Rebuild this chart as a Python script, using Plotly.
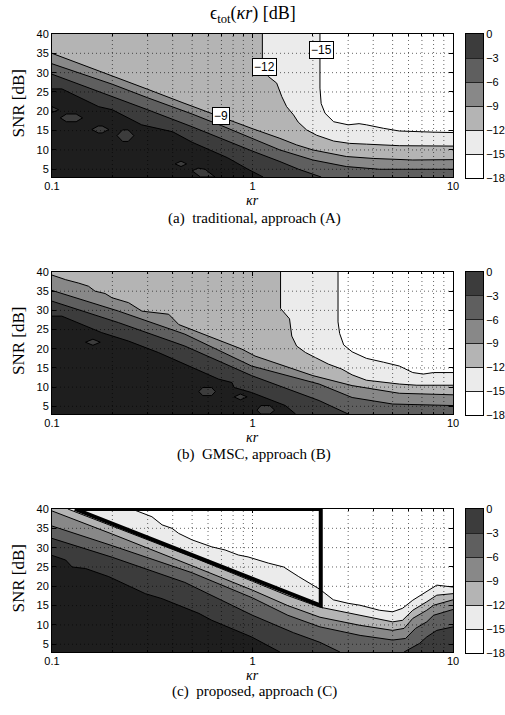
import math
import plotly.graph_objects as go

# ---------------- axes / scale values ----------------
KR_RANGE = [0.1, 10]
SNR_RANGE = [3, 40]
X_TICKS = [0.1, 1, 10]
X_TICK_TEXT = ["0.1", "1", "10"]
X_MINOR = [0.2, 0.3, 0.4, 0.5, 0.6, 0.7, 0.8, 0.9, 2, 3, 4, 5, 6, 7, 8, 9]
Y_TICKS = [5, 10, 15, 20, 25, 30, 35, 40]
LEVELS = [-18, -15, -12, -9, -6, -3, 0]
LEVEL_TEXT = ["\u221218", "\u221215", "\u221212", "\u22129", "\u22126", "\u22123", "0"]
BAND_MID = [-16.5, -13.5, -10.5, -7.5, -4.5, -1.5]
BAND_COLORS = ["#ffffff", "#ebebeb", "#b4b4b4", "#888888", "#5f5f5f", "#3c3c3c"]
ABOVE_ZERO_COLOR = "#1e1e1e"

# ---------------- panel (a): traditional ----------------
A_M15_KR = [2.17, 2.17, 2.2, 2.3, 2.54, 3.0, 3.4, 3.7, 4.5, 5.4, 8.0, 10]
A_M15_SNR = [40, 26, 22, 19.5, 17.3, 16.5, 16.8, 16.5, 15.6, 14.9, 14.6, 14.5]
A_M12_KR = [1.12, 1.12, 1.2, 1.32, 1.40, 1.48, 1.60, 1.69, 1.86, 2.09, 2.54, 3.05, 3.7, 5.4, 10]
A_M12_SNR = [40, 31, 29.0, 27.3, 23.8, 21.2, 19.1, 17.2, 15.2, 13.8, 12.3, 11.7, 11.5, 11.1, 11.0]
A_M9_KR = [0.1, 0.2, 0.3, 0.45, 0.64, 0.8, 1.0, 1.37, 1.66, 2.0, 2.94, 4.0, 6.3, 10]
A_M9_SNR = [35.0, 29.2, 25.7, 22.2, 19.2, 17.4, 15.5, 13.0, 11.3, 10.0, 8.3, 7.8, 7.4, 7.5]
A_M6_KR = [0.1, 0.2, 0.3, 0.5, 0.7, 1.0, 1.37, 2.0, 2.94, 4.3, 10]
A_M6_SNR = [32.3, 27.0, 23.5, 19.3, 16.3, 13.0, 10.0, 7.4, 5.7, 5.0, 5.0]
A_M3_KR = [0.1, 0.2, 0.3, 0.5, 0.7, 1.0, 1.37, 1.7, 2.2]
A_M3_SNR = [29.6, 23.9, 20.4, 16.0, 12.9, 9.7, 7.0, 5.0, 3.0]
A_0_KR = [0.1, 0.112, 0.171, 0.2, 0.28, 0.4, 0.5, 0.75, 0.95, 1.13]
A_0_SNR = [25.8, 25.8, 21.2, 20.4, 16.5, 14.7, 12.0, 8.0, 5.0, 3.0]
A_ISLANDS = [
    ([0.1, 0.108, 0.1], [21.2, 20.4, 19.7]),
    ([0.110, 0.118, 0.132, 0.142, 0.132, 0.118], [18.3, 19.3, 19.3, 18.3, 17.3, 17.3]),
    ([0.158, 0.170, 0.178, 0.192, 0.178, 0.170], [15.3, 16.2, 16.2, 15.3, 14.4, 14.4]),
    ([0.211, 0.225, 0.240, 0.256, 0.240, 0.225], [13.7, 15.2, 15.2, 13.7, 12.2, 12.2]),
    ([0.411, 0.44, 0.469, 0.44], [6.4, 7.1, 6.4, 5.7]),
    ([0.50, 0.535, 0.58, 0.65, 0.55], [4.6, 5.3, 5.0, 3.0, 3.0]),
]
A_LABEL_KR = [0.70, 1.15, 2.21]
A_LABEL_SNR = [18.8, 31.4, 35.9]
A_LABEL_TEXT = ["\u22129", "\u221212", "\u221215"]

# ---------------- panel (b): GMSC ----------------
B_M15_KR = [2.67, 2.67, 2.72, 2.85, 3.14, 3.7, 4.5, 5.4, 6.3, 7.1, 8.0, 10]
B_M15_SNR = [40, 27, 24, 21, 19.2, 17.5, 16.5, 15.5, 13.8, 13.4, 13.8, 13.8]
B_M12_KR = [1.38, 1.38, 1.53, 1.57, 1.66, 1.84, 2.06, 2.39, 2.79, 3.14, 3.7, 5.4, 6.6, 10]
B_M12_SNR = [40, 30.5, 27.8, 23.3, 20.7, 19.0, 17.7, 16.0, 14.7, 13.2, 11.8, 10.8, 10.5, 10.5]
B_M9_KR = [0.1, 0.117, 0.136, 0.152, 0.164, 0.184, 0.199, 0.241, 0.281, 0.382, 0.429,
           0.518, 0.653, 0.79, 0.885, 1.03, 1.4, 2.0, 3.14, 5.4, 10]
B_M9_SNR = [39.2, 38.0, 37.1, 36.3, 35.0, 34.4, 33.3, 32.0, 29.8, 29.0, 26.3,
            24.6, 22.5, 20.9, 19.9, 18.1, 15.8, 13.0, 10.4, 8.4, 8.0]
B_M6_KR = [0.1, 0.215, 0.46, 0.99, 2.15, 3.14, 5.0, 10]
B_M6_SNR = [35.2, 29.8, 23.8, 15.5, 10.8, 7.3, 5.6, 5.2]
B_M3_KR = [0.1, 0.215, 0.46, 0.99, 2.15, 3.0]
B_M3_SNR = [32.4, 26.8, 20.7, 13.0, 6.5, 3.0]
B_0_KR = [0.1, 0.112, 0.177, 0.241, 0.34, 0.46, 0.677, 0.79, 0.81, 0.99, 1.46, 1.64]
B_0_SNR = [28.5, 28.5, 24.2, 22.0, 19.0, 16.0, 12.1, 11.2, 9.9, 8.6, 5.2, 3.0]
B_ISLANDS = [
    ([0.147, 0.16, 0.174, 0.16], [21.7, 22.5, 21.7, 20.9]),
    ([0.539, 0.565, 0.625, 0.653, 0.625, 0.565], [8.85, 9.9, 9.9, 8.85, 7.8, 7.8]),
    ([0.81, 0.87, 0.94, 0.87], [7.45, 8.2, 7.45, 6.7]),
    ([1.053, 1.10, 1.22, 1.29, 1.22, 1.10], [4.0, 5.2, 5.2, 4.0, 3.0, 3.0]),
]

# ---------------- panel (c): proposed ----------------
C_M15_KR = [0.25, 0.315, 0.354, 0.397, 0.428, 0.50, 0.627, 0.73, 0.85, 0.95, 1.2, 1.43,
            1.7, 2.17, 2.53, 3.0, 3.44, 4.3, 5.0, 5.6, 6.3, 7.4, 8.3, 10]
C_M15_SNR = [40, 38.0, 35.9, 35.0, 33.7, 32.0, 30.2, 29.4, 28.1, 27.6, 26.0, 25.0,
             22.5, 19.2, 16.5, 15.6, 15.1, 13.8, 13.4, 14.3, 16.4, 18.6, 20.3, 19.8]
C_M12_KR = [0.12, 0.2, 0.5, 1.0, 1.5, 2.17, 3.0, 3.44, 5.0, 5.6, 6.3, 7.4, 8.3, 10]
C_M12_SNR = [40, 35.6, 27.6, 21.3, 17.6, 14.6, 13.2, 12.5, 10.8, 11.2, 13.8, 16.0, 17.7, 18.1]
C_M9_KR = [0.1, 0.2, 0.5, 1.0, 1.5, 2.17, 3.44, 5.0, 5.7, 6.3, 7.4, 8.0, 10]
C_M9_SNR = [39.5, 33.5, 25.3, 19.0, 15.0, 12.0, 9.9, 8.6, 9.1, 11.7, 13.8, 15.1, 16.5]
C_M6_KR = [0.1, 0.2, 0.5, 1.0, 1.5, 2.17, 3.44, 5.0, 5.8, 6.5, 7.4, 8.0, 10]
C_M6_SNR = [35.6, 30.5, 23.5, 17.0, 12.5, 9.5, 7.3, 6.1, 6.5, 9.1, 10.8, 12.5, 14.0]
C_M3_KR = [0.1, 0.2, 0.46, 1.0, 1.6, 2.17, 2.73]
C_M3_SNR = [32.4, 27.5, 21.0, 12.5, 8.0, 5.5, 3.0]
C_M3B_KR = [5.7, 6.8, 7.4, 8.3, 10]
C_M3B_SNR = [3.0, 5.2, 6.9, 8.6, 9.5]
C_0_KR = [0.1, 0.117, 0.126, 0.147, 0.192, 0.292, 0.354, 0.54, 0.627, 0.99, 1.37]
C_0_SNR = [28.0, 26.8, 25.0, 24.6, 22.5, 18.1, 16.8, 13.0, 11.2, 6.9, 3.0]
C_TRI_KR = [0.13, 2.19, 2.19, 0.13]
C_TRI_SNR = [40, 15.0, 40, 40]

PANELS = [
    {
        "lines": [(-15, [(A_M15_KR, A_M15_SNR)]), (-12, [(A_M12_KR, A_M12_SNR)]),
                  (-9, [(A_M9_KR, A_M9_SNR)]), (-6, [(A_M6_KR, A_M6_SNR)]),
                  (-3, [(A_M3_KR, A_M3_SNR)]), (0, [(A_0_KR, A_0_SNR)])],
        "islands": A_ISLANDS,
        "caption": "(a)\u00a0 traditional, approach (A)",
        "top": 34, "bottom": 177, "xlabel_y": 200, "caption_y": 218.5,
    },
    {
        "lines": [(-15, [(B_M15_KR, B_M15_SNR)]), (-12, [(B_M12_KR, B_M12_SNR)]),
                  (-9, [(B_M9_KR, B_M9_SNR)]), (-6, [(B_M6_KR, B_M6_SNR)]),
                  (-3, [(B_M3_KR, B_M3_SNR)]), (0, [(B_0_KR, B_0_SNR)])],
        "islands": B_ISLANDS,
        "caption": "(b)\u00a0 GMSC, approach (B)",
        "top": 272, "bottom": 414, "xlabel_y": 437, "caption_y": 454,
    },
    {
        "lines": [(-15, [(C_M15_KR, C_M15_SNR)]), (-12, [(C_M12_KR, C_M12_SNR)]),
                  (-9, [(C_M9_KR, C_M9_SNR)]), (-6, [(C_M6_KR, C_M6_SNR)]),
                  (-3, [(C_M3_KR, C_M3_SNR), (C_M3B_KR, C_M3B_SNR)]),
                  (0, [(C_0_KR, C_0_SNR)])],
        "islands": [],
        "caption": "(c)\u00a0 proposed, approach (C)",
        "top": 509, "bottom": 652, "xlabel_y": 675, "caption_y": 691,
    },
]

W, H = 505, 715
PLOT_LEFT, PLOT_RIGHT = 52, 453
CB_LEFT, CB_RIGHT = 466, 483

SANS = "Liberation Sans, Arial, sans-serif"
SERIF = "Liberation Serif, Times New Roman, serif"


def fill_color_above(level):
    if level == 0:
        return ABOVE_ZERO_COLOR
    return BAND_COLORS[LEVELS.index(level)]


def edge_of(k, s):
    lk = math.log10(k)
    if abs(lk - math.log10(KR_RANGE[1])) < 1e-9:
        return "right"
    if abs(lk - math.log10(KR_RANGE[0])) < 1e-9:
        return "left"
    if abs(s - SNR_RANGE[0]) < 1e-9:
        return "bottom"
    return "top"


def close_region(kr, snr):
    order = ["right", "bottom", "left", "top"]
    corner = {"right": (KR_RANGE[1], SNR_RANGE[0]), "bottom": (KR_RANGE[0], SNR_RANGE[0]),
              "left": (KR_RANGE[0], SNR_RANGE[1]), "top": (KR_RANGE[1], SNR_RANGE[1])}
    start = edge_of(kr[0], snr[0])
    e = edge_of(kr[-1], snr[-1])
    xs, ys = list(kr), list(snr)
    for _ in range(4):
        if e == start:
            break
        cx, cy = corner[e]
        xs.append(cx)
        ys.append(cy)
        e = order[(order.index(e) + 1) % 4]
    xs.append(kr[0])
    ys.append(snr[0])
    return xs, ys


# discrete colour scale for the colour bars
colorscale = []
for i, c in enumerate(BAND_COLORS):
    colorscale.append([i / len(BAND_COLORS), c])
    colorscale.append([(i + 1) / len(BAND_COLORS), c])

fig = go.Figure()
annotations = []
layout_axes = {}

for p_i, P in enumerate(PANELS):
    n = "" if p_i == 0 else str(p_i + 1)
    xa, ya = "x" + n, "y" + n
    cn = str(p_i + 4)
    cxa, cya = "x" + cn, "y" + cn
    # filled regions (lightest first)
    for level, segs in P["lines"]:
        for kr, snr in segs:
            xs, ys = close_region(kr, snr)
            fig.add_trace(go.Scatter(x=xs, y=ys, xaxis=xa, yaxis=ya, mode="lines",
                                     fill="toself", fillcolor=fill_color_above(level),
                                     line=dict(width=0), hoverinfo="skip", showlegend=False))
    for kr, snr in P["islands"]:
        fig.add_trace(go.Scatter(x=list(kr) + [kr[0]], y=list(snr) + [snr[0]], xaxis=xa, yaxis=ya,
                                 mode="lines", fill="toself", fillcolor=BAND_COLORS[-1],
                                 line=dict(color="black", width=1), hoverinfo="skip",
                                 showlegend=False))
    # contour lines
    for level, segs in P["lines"]:
        for kr, snr in segs:
            fig.add_trace(go.Scatter(x=kr, y=snr, xaxis=xa, yaxis=ya, mode="lines",
                                     line=dict(color="black", width=1), hoverinfo="skip",
                                     showlegend=False))
    # dotted grid on top of the fills
    gx, gy = [], []
    for v in X_MINOR + [1]:
        gx += [v, v, None]
        gy += [SNR_RANGE[0], SNR_RANGE[1], None]
    for v in Y_TICKS[:-1]:
        gx += [KR_RANGE[0], KR_RANGE[1], None]
        gy += [v, v, None]
    fig.add_trace(go.Scatter(x=gx, y=gy, xaxis=xa, yaxis=ya, mode="lines",
                             line=dict(color="rgba(0,0,0,0.6)", width=1, dash="1px,3px"),
                             hoverinfo="skip", showlegend=False))
    if p_i == 2:
        fig.add_trace(go.Scatter(x=C_TRI_KR, y=C_TRI_SNR, xaxis=xa, yaxis=ya, mode="lines",
                                 line=dict(color="black", width=4), hoverinfo="skip",
                                 showlegend=False, cliponaxis=False))
    # colour bar drawn as its own small axis
    fig.add_trace(go.Heatmap(x=[0, 1], y=LEVELS, z=[[v] for v in BAND_MID],
                             xaxis=cxa, yaxis=cya, colorscale=colorscale,
                             zmin=LEVELS[0], zmax=LEVELS[-1], showscale=False,
                             hoverinfo="skip"))

    dom_y = [1 - P["bottom"] / H, 1 - P["top"] / H]
    layout_axes["xaxis" + n] = dict(
        type="log", range=[math.log10(KR_RANGE[0]), math.log10(KR_RANGE[1])],
        domain=[PLOT_LEFT / W, PLOT_RIGHT / W], anchor=ya,
        tickmode="array", tickvals=X_TICKS, ticktext=X_TICK_TEXT,
        ticks="inside", ticklen=4, tickcolor="black", ticklabelstandoff=-1,
        showline=True, linecolor="black", linewidth=1, mirror="ticks",
        showgrid=False, zeroline=False, layer="above traces",
        tickfont=dict(family=SANS, size=11, color="black"),
        minor=dict(tickvals=X_MINOR, ticks="inside", ticklen=2, tickcolor="black",
                   showgrid=False),
        fixedrange=True)
    layout_axes["yaxis" + n] = dict(
        range=SNR_RANGE, domain=dom_y, anchor=xa,
        tickmode="array", tickvals=Y_TICKS,
        ticks="inside", ticklen=4, tickcolor="black",
        showline=True, linecolor="black", linewidth=1, mirror="ticks",
        showgrid=False, zeroline=False, layer="above traces",
        tickfont=dict(family=SANS, size=11, color="black"),
        fixedrange=True)
    cb_dom_y = [1 - (P["bottom"] + 1) / H, 1 - P["top"] / H]
    layout_axes["xaxis" + cn] = dict(
        range=[0, 1], domain=[CB_LEFT / W, CB_RIGHT / W], anchor=cya,
        showticklabels=False, ticks="", showgrid=False, zeroline=False,
        showline=True, linecolor="black", linewidth=1, mirror=True,
        layer="above traces", fixedrange=True)
    layout_axes["yaxis" + cn] = dict(
        range=[LEVELS[0], LEVELS[-1]], domain=cb_dom_y, anchor=cxa, side="right",
        tickmode="array", tickvals=LEVELS, ticktext=LEVEL_TEXT,
        ticks="inside", ticklen=CB_RIGHT - CB_LEFT, tickwidth=1, tickcolor="#222222",
        showline=True, linecolor="black", linewidth=1, mirror=True,
        showgrid=False, zeroline=False, layer="above traces",
        tickfont=dict(family=SANS, size=11, color="black"),
        fixedrange=True)

    # texts
    cy_mid = (P["top"] + P["bottom"]) / 2
    annotations.append(dict(xref="paper", yref="paper", x=18 / W, y=1 - (cy_mid - 2) / H,
                            text="SNR [dB]", textangle=-90, showarrow=False,
                            xanchor="center", yanchor="middle",
                            font=dict(family=SERIF, size=17, color="black")))
    annotations.append(dict(xref="paper", yref="paper", x=252 / W, y=1 - P["xlabel_y"] / H,
                            text="<i>\u03bar</i>", showarrow=False,
                            xanchor="center", yanchor="middle",
                            font=dict(family=SERIF, size=14, color="black")))
    annotations.append(dict(xref="paper", yref="paper", x=254 / W, y=1 - P["caption_y"] / H,
                            text=P["caption"], showarrow=False,
                            xanchor="center", yanchor="middle",
                            font=dict(family=SERIF, size=15, color="black")))

# contour level labels in panel (a)
for k, s, t in zip(A_LABEL_KR, A_LABEL_SNR, A_LABEL_TEXT):
    annotations.append(dict(xref="x", yref="y", x=math.log10(k), y=s, text=t, showarrow=False,
                            bgcolor="white", bordercolor="black", borderwidth=1, borderpad=1,
                            font=dict(family=SANS, size=12, color="black")))

# figure title
annotations.append(dict(xref="paper", yref="paper", x=252.5 / W, y=1 - 15 / H,
                        text="\u03f5<sub>tot</sub>(<i>\u03bar</i>) [dB]", showarrow=False,
                        xanchor="center", yanchor="middle",
                        font=dict(family=SERIF, size=18, color="black")))

fig.update_layout(
    width=W, height=H,
    margin=dict(l=0, r=0, t=0, b=0, autoexpand=False),
    paper_bgcolor="white", plot_bgcolor="white",
    showlegend=False,
    annotations=annotations,
    **layout_axes,
)

fig.write_html("out.html", config={"displayModeBar": False},
               post_script="document.body.style.margin='0px';")
